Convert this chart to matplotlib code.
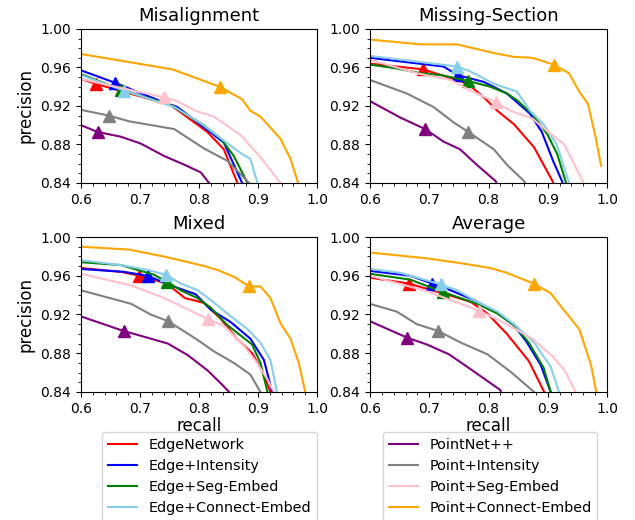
import matplotlib
matplotlib.use("Agg")
import matplotlib.pyplot as plt
from matplotlib.lines import Line2D
from matplotlib.ticker import MultipleLocator

methods = ["EdgeNetwork", "Edge+Intensity", "Edge+Seg-Embed", "Edge+Connect-Embed",
           "PointNet++", "Point+Intensity", "Point+Seg-Embed", "Point+Connect-Embed"]
colors = ["red", "blue", "green", "skyblue", "purple", "gray", "pink", "orange"]

# recall / precision curves, one dict per panel
misalignment = {
    "EdgeNetwork": ([0.6, 0.625, 0.752, 0.814, 0.842, 0.865, 0.868], [0.948, 0.943, 0.921, 0.893, 0.875, 0.84, 0.835]),
    "Edge+Intensity": ([0.6, 0.658, 0.735, 0.763, 0.808, 0.842, 0.873, 0.876], [0.957, 0.944, 0.925, 0.919, 0.898, 0.882, 0.84, 0.835]),
    "Edge+Seg-Embed": ([0.6, 0.668, 0.752, 0.808, 0.837, 0.859, 0.882, 0.885], [0.953, 0.937, 0.921, 0.900, 0.886, 0.868, 0.84, 0.835]),
    "Edge+Connect-Embed": ([0.6, 0.673, 0.758, 0.803, 0.842, 0.873, 0.887, 0.899, 0.901], [0.952, 0.936, 0.919, 0.902, 0.884, 0.870, 0.865, 0.84, 0.835]),
    "PointNet++": ([0.6, 0.628, 0.668, 0.701, 0.741, 0.775, 0.803, 0.817, 0.82], [0.900, 0.893, 0.888, 0.881, 0.868, 0.859, 0.851, 0.84, 0.835]),
    "Point+Intensity": ([0.6, 0.647, 0.682, 0.758, 0.808, 0.848, 0.885, 0.89], [0.916, 0.910, 0.904, 0.896, 0.876, 0.863, 0.84, 0.835]),
    "Point+Seg-Embed": ([0.6, 0.740, 0.763, 0.794, 0.825, 0.870, 0.904, 0.938, 0.941], [0.948, 0.929, 0.925, 0.915, 0.909, 0.890, 0.867, 0.84, 0.835]),
    "Point+Connect-Embed": ([0.6, 0.755, 0.835, 0.873, 0.887, 0.904, 0.938, 0.955, 0.968, 0.97], [0.974, 0.958, 0.940, 0.927, 0.915, 0.909, 0.886, 0.865, 0.84, 0.835]),
}
misalignment_marks = {
    "EdgeNetwork": (0.625, 0.943), "Edge+Intensity": (0.658, 0.944),
    "Edge+Seg-Embed": (0.668, 0.937), "Edge+Connect-Embed": (0.673, 0.936),
    "PointNet++": (0.628, 0.893), "Point+Intensity": (0.647, 0.910),
    "Point+Seg-Embed": (0.740, 0.929), "Point+Connect-Embed": (0.835, 0.940),
}

missing_section = {
    "EdgeNetwork": ([0.6, 0.690, 0.736, 0.765, 0.792, 0.815, 0.843, 0.877, 0.908, 0.912], [0.964, 0.958, 0.949, 0.943, 0.929, 0.915, 0.901, 0.877, 0.842, 0.835]),
    "Edge+Intensity": ([0.6, 0.724, 0.748, 0.792, 0.831, 0.870, 0.890, 0.909, 0.924, 0.928], [0.970, 0.961, 0.952, 0.945, 0.933, 0.912, 0.893, 0.863, 0.842, 0.835]),
    "Edge+Seg-Embed": ([0.6, 0.645, 0.685, 0.721, 0.766, 0.803, 0.831, 0.848, 0.873, 0.899, 0.916, 0.930, 0.934], [0.963, 0.959, 0.954, 0.952, 0.946, 0.940, 0.933, 0.926, 0.912, 0.891, 0.870, 0.842, 0.835]),
    "Edge+Connect-Embed": ([0.6, 0.747, 0.769, 0.809, 0.848, 0.870, 0.893, 0.915, 0.935, 0.939], [0.972, 0.961, 0.956, 0.943, 0.935, 0.915, 0.901, 0.880, 0.842, 0.835]),
    "PointNet++": ([0.6, 0.651, 0.693, 0.724, 0.752, 0.780, 0.812, 0.817], [0.925, 0.908, 0.896, 0.883, 0.875, 0.859, 0.842, 0.835]),
    "Point+Intensity": ([0.6, 0.662, 0.707, 0.741, 0.766, 0.809, 0.831, 0.860, 0.866], [0.947, 0.933, 0.919, 0.903, 0.893, 0.875, 0.859, 0.842, 0.835]),
    "Point+Seg-Embed": ([0.6, 0.679, 0.736, 0.770, 0.812, 0.837, 0.874, 0.899, 0.928, 0.959, 0.962], [0.968, 0.954, 0.947, 0.936, 0.924, 0.915, 0.907, 0.894, 0.880, 0.842, 0.835]),
    "Point+Connect-Embed": ([0.6, 0.685, 0.747, 0.809, 0.843, 0.874, 0.910, 0.936, 0.953, 0.968, 0.981, 0.990], [0.989, 0.984, 0.984, 0.975, 0.971, 0.970, 0.963, 0.954, 0.935, 0.922, 0.887, 0.858]),
}
missing_section_marks = {
    "EdgeNetwork": (0.690, 0.958), "Edge+Intensity": (0.748, 0.952),
    "Edge+Seg-Embed": (0.766, 0.946), "Edge+Connect-Embed": (0.747, 0.961),
    "PointNet++": (0.693, 0.896), "Point+Intensity": (0.766, 0.893),
    "Point+Seg-Embed": (0.812, 0.924), "Point+Connect-Embed": (0.910, 0.963),
}

mixed = {
    "EdgeNetwork": ([0.6, 0.668, 0.699, 0.745, 0.776, 0.808, 0.836, 0.864, 0.890, 0.907, 0.921, 0.924], [0.968, 0.964, 0.960, 0.952, 0.937, 0.932, 0.916, 0.895, 0.880, 0.862, 0.84, 0.835]),
    "Edge+Intensity": ([0.6, 0.673, 0.713, 0.752, 0.794, 0.820, 0.854, 0.887, 0.910, 0.924, 0.927], [0.967, 0.964, 0.960, 0.950, 0.941, 0.925, 0.912, 0.895, 0.873, 0.84, 0.835]),
    "Edge+Seg-Embed": ([0.6, 0.668, 0.724, 0.745, 0.769, 0.797, 0.820, 0.848, 0.890, 0.904, 0.916, 0.919], [0.974, 0.971, 0.961, 0.954, 0.945, 0.937, 0.927, 0.909, 0.889, 0.870, 0.84, 0.835]),
    "Edge+Connect-Embed": ([0.6, 0.668, 0.713, 0.744, 0.769, 0.798, 0.826, 0.854, 0.882, 0.904, 0.921, 0.932, 0.935], [0.976, 0.971, 0.966, 0.961, 0.952, 0.945, 0.932, 0.918, 0.905, 0.891, 0.873, 0.84, 0.835]),
    "PointNet++": ([0.6, 0.672, 0.713, 0.747, 0.781, 0.815, 0.840, 0.851, 0.854], [0.918, 0.903, 0.896, 0.890, 0.878, 0.862, 0.847, 0.84, 0.835]),
    "Point+Intensity": ([0.6, 0.685, 0.718, 0.748, 0.797, 0.825, 0.859, 0.887, 0.904, 0.907], [0.945, 0.931, 0.920, 0.913, 0.894, 0.882, 0.870, 0.858, 0.84, 0.835]),
    "Point+Seg-Embed": ([0.6, 0.685, 0.741, 0.792, 0.816, 0.843, 0.877, 0.896, 0.916, 0.927, 0.930], [0.962, 0.950, 0.937, 0.922, 0.915, 0.908, 0.887, 0.872, 0.853, 0.84, 0.835]),
    "Point+Connect-Embed": ([0.6, 0.682, 0.747, 0.809, 0.831, 0.859, 0.885, 0.904, 0.921, 0.938, 0.955, 0.969, 0.980, 0.982], [0.990, 0.987, 0.979, 0.970, 0.966, 0.959, 0.949, 0.949, 0.937, 0.911, 0.895, 0.870, 0.84, 0.835]),
}
mixed_marks = {
    "EdgeNetwork": (0.699, 0.960), "Edge+Intensity": (0.713, 0.960),
    "Edge+Seg-Embed": (0.745, 0.954), "Edge+Connect-Embed": (0.744, 0.961),
    "PointNet++": (0.672, 0.903), "Point+Intensity": (0.748, 0.913),
    "Point+Seg-Embed": (0.816, 0.915), "Point+Connect-Embed": (0.885, 0.949),
}

average = {
    "EdgeNetwork": ([0.6, 0.665, 0.733, 0.770, 0.798, 0.831, 0.868, 0.894, 0.897], [0.958, 0.952, 0.940, 0.933, 0.921, 0.900, 0.872, 0.84, 0.835]),
    "Edge+Intensity": ([0.6, 0.668, 0.705, 0.736, 0.775, 0.809, 0.843, 0.865, 0.888, 0.905, 0.908], [0.965, 0.960, 0.952, 0.945, 0.935, 0.924, 0.909, 0.891, 0.868, 0.84, 0.835]),
    "Edge+Seg-Embed": ([0.6, 0.668, 0.724, 0.781, 0.815, 0.843, 0.868, 0.893, 0.905, 0.908], [0.962, 0.956, 0.943, 0.931, 0.921, 0.909, 0.891, 0.865, 0.84, 0.835]),
    "Edge+Connect-Embed": ([0.6, 0.651, 0.720, 0.747, 0.781, 0.815, 0.843, 0.877, 0.905, 0.919, 0.922], [0.967, 0.963, 0.951, 0.945, 0.933, 0.923, 0.910, 0.891, 0.866, 0.84, 0.835]),
    "PointNet++": ([0.6, 0.663, 0.696, 0.733, 0.764, 0.792, 0.820, 0.823], [0.913, 0.896, 0.889, 0.879, 0.866, 0.854, 0.842, 0.835]),
    "Point+Intensity": ([0.6, 0.645, 0.679, 0.715, 0.753, 0.798, 0.837, 0.877, 0.881], [0.931, 0.923, 0.910, 0.903, 0.891, 0.879, 0.861, 0.84, 0.835]),
    "Point+Seg-Embed": ([0.6, 0.696, 0.784, 0.831, 0.874, 0.908, 0.930, 0.947, 0.950], [0.960, 0.944, 0.924, 0.910, 0.895, 0.877, 0.861, 0.84, 0.835]),
    "Point+Connect-Embed": ([0.6, 0.696, 0.753, 0.803, 0.831, 0.876, 0.905, 0.928, 0.953, 0.973, 0.982, 0.984], [0.984, 0.978, 0.973, 0.968, 0.963, 0.952, 0.942, 0.924, 0.905, 0.868, 0.84, 0.835]),
}
average_marks = {
    "EdgeNetwork": (0.665, 0.952), "Edge+Intensity": (0.705, 0.952),
    "Edge+Seg-Embed": (0.724, 0.943), "Edge+Connect-Embed": (0.720, 0.951),
    "PointNet++": (0.663, 0.896), "Point+Intensity": (0.715, 0.903),
    "Point+Seg-Embed": (0.784, 0.924), "Point+Connect-Embed": (0.876, 0.952),
}

panels = [
    ("Misalignment", misalignment, misalignment_marks),
    ("Missing-Section", missing_section, missing_section_marks),
    ("Mixed", mixed, mixed_marks),
    ("Average", average, average_marks),
]

fig = plt.figure(figsize=(6.35, 5.2), dpi=100)
rects = [
    [0.1276, 0.6481, 0.3717, 0.2962],
    [0.5827, 0.6481, 0.3732, 0.2962],
    [0.1276, 0.2462, 0.3717, 0.2980],
    [0.5827, 0.2462, 0.3732, 0.2980],
]

for i, (title, curves, marks) in enumerate(panels):
    ax = fig.add_axes(rects[i])
    for name, color in zip(methods, colors):
        r, p = curves[name]
        ax.plot(r, p, color=color, linewidth=1.5)
        mr, mp = marks[name]
        ax.plot([mr], [mp], marker="^", color=color, markersize=9, linestyle="none")
    ax.set_xlim(0.6, 1.0)
    ax.set_ylim(0.84, 1.0)
    ax.xaxis.set_major_locator(MultipleLocator(0.1))
    ax.yaxis.set_major_locator(MultipleLocator(0.04))
    ax.minorticks_on()
    ax.set_title(title, fontsize=13)
    if i % 2 == 0:
        ax.set_ylabel("precision", fontsize=12)
    if i >= 2:
        ax.set_xlabel("recall", fontsize=12, labelpad=1)

handles = [Line2D([], [], color=c, linewidth=1.5) for c in colors]
fig.legend(handles[:4], methods[:4], loc="upper left", bbox_to_anchor=(102 / 635, 1 - 432 / 520),
           borderaxespad=0, fontsize=10.4)
fig.legend(handles[4:], methods[4:], loc="upper left", bbox_to_anchor=(383 / 635, 1 - 432 / 520),
           borderaxespad=0, fontsize=10.4)

fig.savefig("out.png", dpi=100)
